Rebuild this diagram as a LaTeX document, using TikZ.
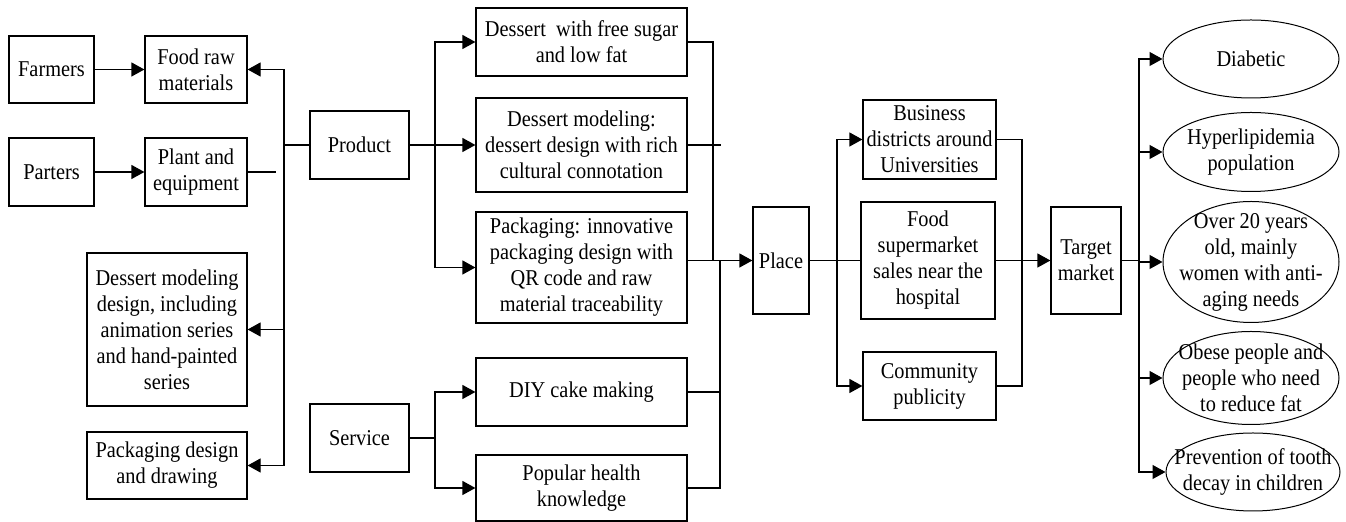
\documentclass[tikz,border=0pt]{standalone}
\usepackage{fontspec}
\setmainfont{Liberation Serif}[FakeStretch=0.9]
\usetikzlibrary{arrows.meta,shapes.geometric}

\tikzset{
	box/.style={draw,line width=0.6pt,inner sep=0pt,align=center,font=\fontsize{11.3}{13}\selectfont},
	oval/.style={draw,ellipse,line width=0.5pt,inner sep=0pt,minimum width=88pt,minimum height=39pt},
	ovaltxt/.style={align=center,inner sep=0pt,font=\fontsize{11.3}{13}\selectfont},
	link/.style={line width=0.6pt},
	arr/.style={line width=0.6pt,-{Triangle[length=6.5pt,width=7pt]}}
}

\begin{document}
\begin{tikzpicture}[x=0.5pt,y=-0.5pt]
	\useasboundingbox (0,0) rectangle (1346,522);

	\node[box,minimum width=42.5pt,minimum height=33.5pt] (farmers) at (51.5,69.5) {Farmers};
	\node[box,minimum width=51pt,minimum height=33.5pt] (foodraw) at (196,69.5) {Food raw\\materials};
	\node[box,minimum width=42.5pt,minimum height=34pt] (parters) at (51.5,172) {Parters};
	\node[box,minimum width=51pt,minimum height=34pt] (plant) at (196,172) {Plant and\\equipment};
	\node[box,minimum width=80pt,minimum height=76.5pt] (modeldesign) at (167,329.5) {Dessert modeling\\design, including\\animation series\\and hand-painted\\series};
	\node[box,minimum width=80pt,minimum height=33.5pt] (pkgdesign) at (167,465.5) {Packaging design\\and drawing};

	\node[box,minimum width=49.5pt,minimum height=34pt] (product) at (359.5,145) {Product};
	\node[box,minimum width=49.5pt,minimum height=34pt] (service) at (359.5,438) {Service};

	\node[box,minimum width=105.5pt,minimum height=34pt] (sugarfree) at (581.5,42) {Dessert~ with free sugar\\and low fat};
	\node[box,minimum width=105.5pt,minimum height=47pt] (modeling) at (581.5,145) {Dessert modeling:\\dessert design with rich\\cultural connotation};
	\node[box,minimum width=105.5pt,minimum height=55.5pt] (packaging) at (581.5,267.5) {Packaging: innovative\\packaging design with\\QR code and raw\\material traceability};
	\node[box,minimum width=105.5pt,minimum height=34pt] (diy) at (581.5,392) {DIY cake making};
	\node[box,minimum width=105.5pt,minimum height=33pt] (health) at (581.5,488) {Popular health\\knowledge};

	\node[box,minimum width=28pt,minimum height=53.5pt] (place) at (781,260.5) {Place};

	\node[box,minimum width=66.5pt,minimum height=39.5pt] (business) at (929.5,139.5) {Business\\districts around\\Universities};
	\node[box,minimum width=67pt,minimum height=58.5pt] (supermarket) at (928,260.5) {Food\\supermarket\\sales near the\\hospital};
	\node[box,minimum width=66.5pt,minimum height=34pt] (community) at (929.5,386) {Community\\publicity};

	\node[box,minimum width=35pt,minimum height=53.5pt] (target) at (1086,260.5) {Target\\market};

	\node[oval] (diabetic) at (1251,59) {};
	\node[ovaltxt] (diabetictxt) at (diabetic) {Diabetic};
	\node[oval,minimum height=39.5pt] (hyperlip) at (1251,152) {};
	\node[ovaltxt] (hyperliptxt) at (hyperlip) {Hyperlipidemia\\population};
	\node[oval,minimum height=60.5pt] (antiaging) at (1251,262) {};
	\node[ovaltxt] (antiagingtxt) at (antiaging) {Over 20 years\\old, mainly\\women with anti-\\aging needs};
	\node[oval,minimum height=46.5pt] (obese) at (1251,378) {};
	\node[ovaltxt] (obesetxt) at (obese) {Obese people and\\people who need\\to reduce fat};
	\node[oval,minimum width=87pt] (tooth) at (1253,472) {};
	\node[ovaltxt] (toothtxt) at (tooth) {Prevention of tooth\\decay in children};

	\coordinate (plantend) at (276,172);
	\coordinate (prodleft) at (284,145);
	\coordinate (prodright) at (435,145);
	\coordinate (servright) at (435,438);
	\coordinate (sugarjoin) at (713,260);
	\coordinate (modelend) at (721,145);
	\coordinate (servjoin) at (720,260);
	\coordinate (placejoin) at (837,260.5);
	\coordinate (chanjoin) at (1022,260.5);
	\coordinate (targetjoin) at (1139,260.5);

	\draw[arr] (farmers) -- (foodraw);
	\draw[arr] (parters) -- (plant);
	\draw[link] (plant.east) -- (plantend);

	\draw[link] (product.west) -- (prodleft);
	\draw[arr] (prodleft) |- (foodraw.east);
	\draw[arr] (prodleft) |- (modeldesign.east);
	\draw[arr] (prodleft) |- (pkgdesign.east);

	\draw[link] (product.east) -- (prodright);
	\draw[arr] (prodright) |- (sugarfree.west);
	\draw[arr] (prodright) |- (modeling.west);
	\draw[arr] (prodright) |- (packaging.west);

	\draw[link] (service.east) -- (servright);
	\draw[arr] (servright) |- (diy.west);
	\draw[arr] (servright) |- (health.west);

	\draw[link] (sugarfree.east) -| (sugarjoin);
	\draw[link] (modeling.east) -- (modelend);
	\draw[link] (diy.east) -| (servjoin);
	\draw[link] (health.east) -| (servjoin);
	\draw[arr] (packaging.east |- place.west) -- (place.west);

	\draw[link] (place.east) -- (supermarket.west);
	\draw[arr] (placejoin) |- (business.west);
	\draw[arr] (placejoin) |- (community.west);

	\draw[link] (business.east) -| (chanjoin);
	\draw[link] (community.east) -| (chanjoin);
	\draw[arr] (supermarket.east) -- (target.west);

	\draw[link] (target.east) -- (targetjoin);
	\draw[arr] (targetjoin) |- (diabetic.west);
	\draw[arr] (targetjoin) |- (hyperlip.west);
	\draw[arr] (targetjoin) |- (antiaging.west);
	\draw[arr] (targetjoin) |- (obese.west);
	\draw[arr] (targetjoin) |- (tooth.west);
\end{tikzpicture}
\end{document}
